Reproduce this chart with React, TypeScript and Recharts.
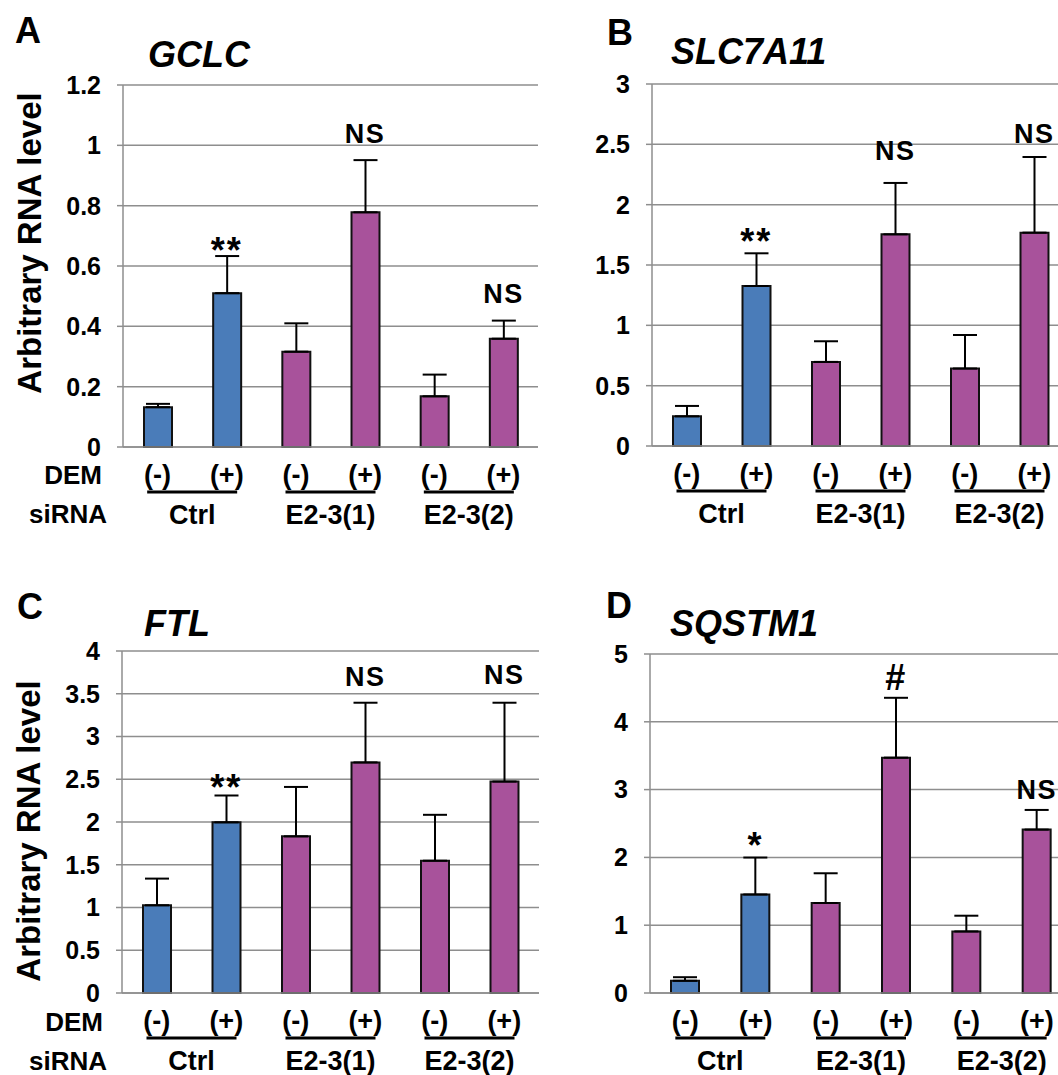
import React from "react";
import {
  Bar,
  Cell,
  ComposedChart,
  CartesianGrid,
  ErrorBar,
  LabelList,
  Line,
  XAxis,
  YAxis,
} from "recharts";

// DEM treatment per bar, siRNA group per bar
const dem = ["(-)", "(+)", "(-)", "(+)", "(-)", "(+)"];
const sirna = ["Ctrl", "Ctrl", "E2-3(1)", "E2-3(1)", "E2-3(2)", "E2-3(2)"];

// GCLC
const gclcMean = [0.132, 0.51, 0.316, 0.778, 0.168, 0.359];
const gclcErr = [0.011, 0.123, 0.094, 0.173, 0.072, 0.06];
const gclcNote = ["", "**", "", "NS", "", "NS"];
const gclcNoteY = [null, 0.677, null, 1.037, null, 0.507];
const gclcTicks = [0, 0.2, 0.4, 0.6, 0.8, 1, 1.2];

// SLC7A11
const slcMean = [0.246, 1.326, 0.697, 1.754, 0.642, 1.768];
const slcErr = [0.086, 0.271, 0.171, 0.426, 0.278, 0.627];
const slcNote = ["", "**", "", "NS", "", "NS"];
const slcNoteY = [null, 1.757, null, 2.444, null, 2.585];
const slcTicks = [0, 0.5, 1, 1.5, 2, 2.5, 3];

// FTL
const ftlMean = [1.026, 1.996, 1.832, 2.697, 1.547, 2.473];
const ftlErr = [0.312, 0.314, 0.578, 0.698, 0.537, 0.922];
const ftlNote = ["", "**", "", "NS", "", "NS"];
const ftlNoteY = [null, 2.497, null, 3.7, null, 3.72];
const ftlTicks = [0, 0.5, 1, 1.5, 2, 2.5, 3, 3.5, 4];

// SQSTM1
const sqMean = [0.18, 1.453, 1.327, 3.471, 0.908, 2.41];
const sqErr = [0.053, 0.545, 0.439, 0.883, 0.232, 0.29];
const sqNote = ["", "*", "", "#", "", "NS"];
const sqNoteY = [null, 2.286, null, 4.657, null, 2.992];
const sqTicks = [0, 1, 2, 3, 4, 5];

const BLUE = "#4a7cb9";
const PURPLE = "#a8529b";
const GRID = "#8e8e8e";
const FONT = '"Liberation Sans", Arial, sans-serif';

function build(mean: number[], err: number[], note: string[], noteY: (number | null)[]) {
  return dem.map((d, i) => ({
    dem: d,
    group: sirna[i],
    mean: mean[i],
    errRange: [0, err[i]],
    note: note[i],
    noteY: noteY[i],
  }));
}

function DemTick(props: any) {
  const { x, y, payload } = props;
  return (
    <text
      x={x}
      y={y + 28}
      textAnchor="middle"
      dominantBaseline="central"
      fontSize={27}
      fontWeight="bold"
      fontFamily={FONT}
      fill="#000"
    >
      {payload.value}
    </text>
  );
}

function GroupTick(props: any) {
  const { x, y, payload } = props;
  return (
    <g>
      <line x1={x - 45} x2={x + 45} y1={y + 5} y2={y + 5} stroke="#000" strokeWidth={3} />
      <text
        x={x}
        y={y + 28}
        textAnchor="middle"
        dominantBaseline="central"
        fontSize={27}
        fontWeight="bold"
        fontFamily={FONT}
        fill="#000"
      >
        {payload.value}
      </text>
    </g>
  );
}

function NoteLabel(props: any) {
  const { x, y, value } = props;
  if (!value || y == null || isNaN(y)) return null;
  const star = String(value).includes("*");
  const size = value === "NS" ? 27 : 36;
  return (
    <text
      x={x}
      y={y}
      dy={star ? "0.22em" : 0}
      textAnchor="middle"
      dominantBaseline="central"
      fontSize={size}
      fontWeight="bold"
      fontFamily={FONT}
      letterSpacing={value === "NS" ? 1.5 : 2}
      fill="#000"
    >
      {value}
    </text>
  );
}

type PanelProps = {
  data: ReturnType<typeof build>;
  ticks: number[];
  width: number;
  height: number;
  top: number;
  right: number;
  axisWidth: number;
};

function Panel({ data, ticks, width, height, top, right, axisWidth }: PanelProps) {
  return (
    <ComposedChart
      width={width}
      height={height}
      data={data}
      margin={{ top, right, bottom: 0, left: 0 }}
    >
      <CartesianGrid xAxisId="dem" vertical={false} stroke={GRID} strokeWidth={1.5} />
      <XAxis
        xAxisId="dem"
        dataKey="dem"
        interval={0}
        tickLine={false}
        tickSize={0}
        tickMargin={0}
        axisLine={{ stroke: GRID, strokeWidth: 1.5 }}
        height={40}
        tick={<DemTick />}
      />
      <XAxis
        xAxisId="grp"
        dataKey="group"
        allowDuplicatedCategory={false}
        interval={0}
        tickLine={false}
        tickSize={0}
        tickMargin={0}
        axisLine={false}
        height={50}
        tick={<GroupTick />}
      />
      <YAxis
        domain={[0, ticks[ticks.length - 1]]}
        ticks={ticks}
        interval={0}
        width={axisWidth}
        tickSize={6}
        tickMargin={16}
        tickLine={{ stroke: GRID, strokeWidth: 1.5 }}
        axisLine={{ stroke: GRID, strokeWidth: 1.5 }}
        tick={{ fontSize: 25, fontWeight: "bold", fill: "#000", fontFamily: FONT }}
      />
      <Bar
        xAxisId="dem"
        dataKey="mean"
        barSize={28}
        stroke="#111"
        strokeWidth={2}
        isAnimationActive={false}
      >
        {data.map((d, i) => (
          <Cell key={i} fill={d.group === "Ctrl" ? BLUE : PURPLE} />
        ))}
        <ErrorBar dataKey="errRange" direction="y" width={12} stroke="#000" strokeWidth={2} />
      </Bar>
      <Line
        xAxisId="dem"
        dataKey="noteY"
        stroke="none"
        dot={false}
        activeDot={false}
        isAnimationActive={false}
      >
        <LabelList dataKey="note" content={<NoteLabel />} />
      </Line>
    </ComposedChart>
  );
}

export default function App() {
  const textStyle = { fontFamily: FONT, fontWeight: "bold" as const, fill: "#000" };
  return (
    <div
      style={{
        position: "absolute",
        left: 0,
        top: 0,
        width: 1058,
        height: 1075,
        overflow: "hidden",
        background: "#fff",
      }}
    >
      <div style={{ position: "absolute", left: 0, top: 0 }}>
        <Panel data={build(gclcMean, gclcErr, gclcNote, gclcNoteY)} ticks={gclcTicks}
          width={560} height={537} top={85} right={22} axisWidth={123} />
      </div>
      <div style={{ position: "absolute", left: 528, top: 0 }}>
        <Panel data={build(slcMean, slcErr, slcNote, slcNoteY)} ticks={slcTicks}
          width={563} height={536} top={84} right={22} axisWidth={124} />
      </div>
      <div style={{ position: "absolute", left: 0, top: 566 }}>
        <Panel data={build(ftlMean, ftlErr, ftlNote, ftlNoteY)} ticks={ftlTicks}
          width={561} height={517} top={85} right={22} axisWidth={122} />
      </div>
      <div style={{ position: "absolute", left: 528, top: 569 }}>
        <Panel data={build(sqMean, sqErr, sqNote, sqNoteY)} ticks={sqTicks}
          width={560} height={514} top={85} right={16} axisWidth={122} />
      </div>
      <svg
        width={1058}
        height={1075}
        style={{ position: "absolute", left: 0, top: 0, pointerEvents: "none" }}
      >
        <text x={15} y={43} fontSize={36} {...textStyle}>A</text>
        <text x={148} y={67} fontSize={36} fontStyle="italic" {...textStyle}>GCLC</text>
        <text x={607} y={45} fontSize={36} {...textStyle}>B</text>
        <text x={671} y={64} fontSize={36} fontStyle="italic" {...textStyle}>SLC7A11</text>
        <text x={17} y={619} fontSize={36} {...textStyle}>C</text>
        <text x={144} y={636} fontSize={36} fontStyle="italic" {...textStyle}>FTL</text>
        <text x={606} y={618} fontSize={36} {...textStyle}>D</text>
        <text x={670} y={636} fontSize={36} fontStyle="italic" {...textStyle}>SQSTM1</text>

        <text x={29} y={243} fontSize={33} textAnchor="middle" dominantBaseline="central"
          transform="rotate(-90 29 243)" {...textStyle}>Arbitrary RNA level</text>
        <text x={28} y={831} fontSize={33} textAnchor="middle" dominantBaseline="central"
          transform="rotate(-90 28 831)" {...textStyle}>Arbitrary RNA level</text>

        <text x={102} y={475} fontSize={26} textAnchor="end" dominantBaseline="central" {...textStyle}>DEM</text>
        <text x={107} y={514} fontSize={26} textAnchor="end" dominantBaseline="central" {...textStyle}>siRNA</text>
        <text x={103} y={1022} fontSize={26} textAnchor="end" dominantBaseline="central" {...textStyle}>DEM</text>
        <text x={107} y={1061} fontSize={26} textAnchor="end" dominantBaseline="central" {...textStyle}>siRNA</text>
      </svg>
    </div>
  );
}
